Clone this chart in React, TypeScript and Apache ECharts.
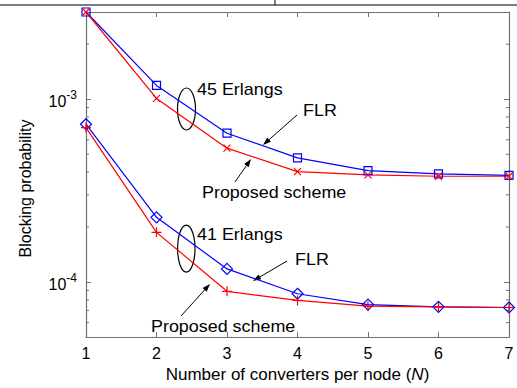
import { useEffect, useRef } from 'react';
import * as echarts from 'echarts';

const N = [1, 2, 3, 4, 5, 6, 7];
const flr45 = [3.0e-3, 1.19e-3, 6.52e-4, 4.78e-4, 4.07e-4, 3.91e-4, 3.83e-4];
const prop45 = [3.0e-3, 1.01e-3, 5.4e-4, 4.02e-4, 3.86e-4, 3.79e-4, 3.79e-4];
const flr41 = [7.3e-4, 2.26e-4, 1.18e-4, 8.63e-5, 7.53e-5, 7.32e-5, 7.26e-5];
const prop41 = [7.0e-4, 1.87e-4, 8.9e-5, 7.94e-5, 7.38e-5, 7.32e-5, 7.26e-5];
const minorTickValues = [6e-5, 7e-5, 8e-5, 9e-5, 2e-4, 3e-4, 4e-4, 5e-4, 6e-4, 7e-4, 8e-4, 9e-4, 2e-3];
const Y_MIN = 5e-5;
const Y_MAX = 3e-3;

const FONT = '"Liberation Sans", Arial, sans-serif';
const AXIS_COLOR = '#707070';
const BLUE = '#0000ff';
const RED = '#ff0000';

const SYM_SQUARE = 'path://M0,0L10,0L10,10L0,10Z';
const SYM_DIAMOND = 'path://M5,0L10,5L5,10L0,5Z';
const SYM_CROSS = 'path://M0,0L10,10M10,0L0,10';
const SYM_PLUS = 'path://M5,0L5,10M0,5L10,5';

function lineSeries(name: string, vals: number[], color: string, symbol: string, size: number) {
  return {
    type: 'line',
    name,
    data: N.map((n, i) => [n, vals[i]]),
    symbol,
    symbolSize: size,
    clip: false,
    lineStyle: { color, width: 1.2 },
    itemStyle: { color: 'rgba(0,0,0,0)', borderColor: color, borderWidth: 1.2 },
    emphasis: { disabled: true },
    silent: true,
  };
}

function arrow(x1: number, y1: number, x2: number, y2: number) {
  const dx = x2 - x1;
  const dy = y2 - y1;
  const len = Math.sqrt(dx * dx + dy * dy);
  const ux = dx / len;
  const uy = dy / len;
  const hl = 8;
  const hw = 2.8;
  const bx = x2 - ux * hl;
  const by = y2 - uy * hl;
  return [
    { type: 'line', shape: { x1, y1, x2: bx, y2: by }, style: { stroke: '#000', lineWidth: 1 } },
    {
      type: 'polygon',
      shape: { points: [[x2, y2], [bx - uy * hw, by + ux * hw], [bx + uy * hw, by - ux * hw]] },
      style: { fill: '#000' },
    },
  ];
}

function label(text: string, x: number, y: number) {
  return {
    type: 'text',
    x,
    y,
    scaleX: 1.12,
    style: { text, fontSize: 16, fontFamily: FONT, fill: '#000', align: 'left', verticalAlign: 'middle' },
  };
}

export default function App() {
  const ref = useRef<HTMLDivElement>(null);
  useEffect(() => {
    if (!ref.current) return;
    const chart = echarts.init(ref.current, null, { renderer: 'svg' });
    const yAxisBase = {
      type: 'log',
      logBase: 10,
      min: Y_MIN,
      max: Y_MAX,
      axisLine: { show: true, lineStyle: { color: AXIS_COLOR, width: 1.2 } },
      axisTick: { show: true, inside: true, length: 5, lineStyle: { color: AXIS_COLOR } },
      splitLine: { show: false },
      minorTick: { show: false },
    };
    const xAxisBase = {
      type: 'value',
      min: 1,
      max: 7,
      interval: 1,
      axisLine: { show: true, lineStyle: { color: AXIS_COLOR, width: 1.2 } },
      axisTick: { show: true, inside: true, length: 5, lineStyle: { color: AXIS_COLOR } },
      splitLine: { show: false },
    };
    chart.setOption({
      animation: false,
      backgroundColor: '#fff',
      grid: { left: 86, right: 8, top: 12, bottom: 44 },
      xAxis: [
        {
          ...xAxisBase,
          position: 'bottom',
          axisLabel: { fontSize: 16, fontFamily: FONT, color: '#000', margin: 8 },
          name: '{a|Number of converters per node (}{i|N}{a|)}',
          nameLocation: 'middle',
          nameGap: 27,
          nameTextStyle: {
            rich: {
              a: { fontSize: 17, fontFamily: FONT, color: '#000' },
              i: { fontSize: 17, fontFamily: FONT, color: '#000', fontStyle: 'italic' },
            },
          },
        },
        { ...xAxisBase, position: 'top', axisLabel: { show: false } },
      ],
      yAxis: [
        {
          ...yAxisBase,
          position: 'left',
          axisLabel: {
            showMinLabel: false,
            showMaxLabel: false,
            margin: 9,
            formatter: (v: number) => `{b|10}{s|${Math.round(Math.log10(v))}}`,
            rich: {
              b: { fontSize: 16, fontFamily: FONT, color: '#000', verticalAlign: 'bottom' },
              s: { fontSize: 12, fontFamily: FONT, color: '#000', verticalAlign: 'bottom', padding: [0, 0, 8, 0] },
            },
          },
          name: 'Blocking probability',
          nameLocation: 'middle',
          nameGap: 53,
          nameRotate: 90,
          nameTextStyle: { fontSize: 16, fontFamily: FONT, color: '#000', padding: [0, 28, 0, 0] },
        },
        { ...yAxisBase, position: 'right', axisLabel: { show: false } },
      ],
      series: [
        lineSeries('FLR (45 Erlangs)', flr45, BLUE, SYM_SQUARE, 8),
        lineSeries('FLR (41 Erlangs)', flr41, BLUE, SYM_DIAMOND, 11),
        lineSeries('Proposed scheme (45 Erlangs)', prop45, RED, SYM_CROSS, 7),
        lineSeries('Proposed scheme (41 Erlangs)', prop41, RED, SYM_PLUS, 10),
        {
          type: 'custom',
          name: 'minor ticks',
          silent: true,
          clip: false,
          data: minorTickValues.map((v) => [1, v]),
          renderItem: (params: any, api: any) => {
            const cs = params.coordSys;
            const y = api.coord([1, api.value(1)])[1];
            return {
              type: 'group',
              children: [
                { type: 'line', shape: { x1: cs.x, y1: y, x2: cs.x + 3, y2: y }, style: { stroke: AXIS_COLOR, lineWidth: 1 } },
                {
                  type: 'line',
                  shape: { x1: cs.x + cs.width - 3, y1: y, x2: cs.x + cs.width, y2: y },
                  style: { stroke: AXIS_COLOR, lineWidth: 1 },
                },
              ],
            };
          },
        },
      ],
      graphic: [
        { type: 'line', shape: { x1: 0, y1: 5, x2: 517, y2: 5 }, style: { stroke: '#000', lineWidth: 1.2 } },
        { type: 'line', shape: { x1: 275, y1: 0, x2: 275, y2: 5 }, style: { stroke: '#000', lineWidth: 1 } },
        { type: 'ellipse', shape: { cx: 186.5, cy: 109, rx: 9, ry: 21 }, style: { fill: 'none', stroke: '#000', lineWidth: 1.2 } },
        { type: 'ellipse', shape: { cx: 186.3, cy: 248.7, rx: 8.7, ry: 23.5 }, style: { fill: 'none', stroke: '#000', lineWidth: 1.2 } },
        ...arrow(297, 115, 263, 145),
        ...arrow(235, 182, 251, 159),
        ...arrow(287, 261, 253, 281),
        ...arrow(181, 316, 210, 284),
        label('45 Erlangs', 197, 90),
        label('FLR', 303, 111),
        label('Proposed scheme', 202, 192.5),
        label('41 Erlangs', 197, 234.5),
        label('FLR', 295, 260),
        label('Proposed scheme', 151, 326.5),
      ],
    });
    return () => chart.dispose();
  }, []);
  return <div ref={ref} style={{ position: 'fixed', left: 0, top: 0, width: 517, height: 388, background: '#fff' }} />;
}
